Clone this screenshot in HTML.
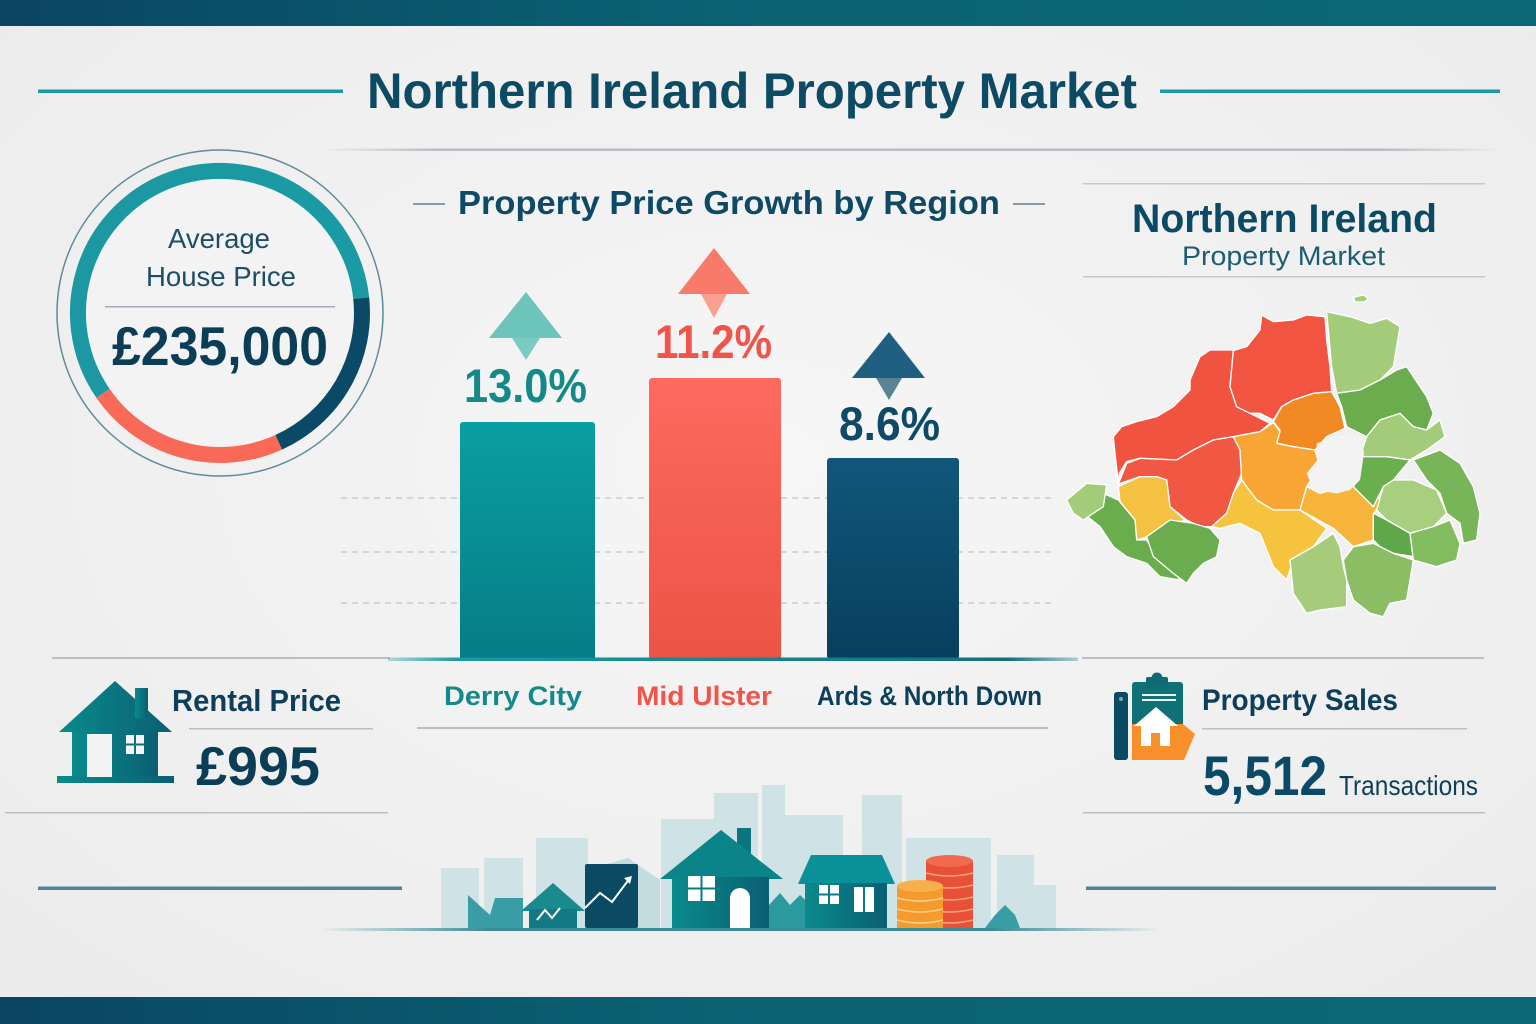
<!DOCTYPE html>
<html><head><meta charset="utf-8"><style>
html,body{margin:0;padding:0;background:#f0f0f0;}
svg{display:block;}
text{font-family:"Liberation Sans",sans-serif;}
</style></head><body>
<svg width="1536" height="1024" viewBox="0 0 1536 1024" xmlns="http://www.w3.org/2000/svg">
<defs>
<radialGradient id="bg" cx="0.5" cy="0.45" r="0.75">
<stop offset="0" stop-color="#f6f6f6"/><stop offset="1" stop-color="#ebebeb"/>
</radialGradient>
<linearGradient id="band" x1="0" x2="1" y1="0" y2="0">
<stop offset="0" stop-color="#0a4562"/><stop offset="0.5" stop-color="#0a6474"/><stop offset="1" stop-color="#0b6675"/>
</linearGradient>
<linearGradient id="grayline" x1="0" x2="1">
<stop offset="0" stop-color="#b8bcc6" stop-opacity="0"/><stop offset="0.1" stop-color="#b8bcc6"/><stop offset="0.9" stop-color="#b8bcc6"/><stop offset="1" stop-color="#b8bcc6" stop-opacity="0"/>
</linearGradient>
<linearGradient id="tealbase" x1="0" x2="1">
<stop offset="0" stop-color="#1a9aa0" stop-opacity="0.3"/><stop offset="0.1" stop-color="#1a9aa0"/><stop offset="0.9" stop-color="#136f80"/><stop offset="1" stop-color="#136f80" stop-opacity="0.3"/>
</linearGradient>
<linearGradient id="ground" x1="0" x2="1">
<stop offset="0" stop-color="#3a8c98" stop-opacity="0"/><stop offset="0.2" stop-color="#3a8c98"/><stop offset="0.8" stop-color="#3a8c98"/><stop offset="1" stop-color="#3a8c98" stop-opacity="0"/>
</linearGradient>
<linearGradient id="barT" x1="0" y1="0" x2="0" y2="1">
<stop offset="0" stop-color="#0a9fa2"/><stop offset="1" stop-color="#067c86"/>
</linearGradient>
<linearGradient id="barC" x1="0" y1="0" x2="0" y2="1">
<stop offset="0" stop-color="#fd6a5f"/><stop offset="1" stop-color="#ec5344"/>
</linearGradient>
<linearGradient id="barN" x1="0" y1="0" x2="0" y2="1">
<stop offset="0" stop-color="#11577a"/><stop offset="1" stop-color="#073f5e"/>
</linearGradient>
<linearGradient id="houseG" x1="0" x2="1">
<stop offset="0" stop-color="#0a8a8c"/><stop offset="1" stop-color="#0a5f72"/>
</linearGradient>
<linearGradient id="tealRing" x1="0" x2="1">
<stop offset="0" stop-color="#1c98a2"/><stop offset="1" stop-color="#1a9aa3"/>
</linearGradient>
</defs>

<rect width="1536" height="1024" fill="url(#bg)"/>
<rect x="0" y="0" width="1536" height="26" fill="url(#band)"/>
<rect x="0" y="997" width="1536" height="27" fill="url(#band)"/>

<!-- Title -->
<rect x="38" y="89.5" width="305" height="3.5" fill="#1b9ba1"/>
<rect x="1160" y="89.5" width="340" height="3.5" fill="#1b9ba1"/>
<text x="367" y="108" font-size="50" font-weight="bold" fill="#0d4a63" textLength="770" lengthAdjust="spacingAndGlyphs">Northern Ireland Property Market</text>
<rect x="320" y="148.5" width="1180" height="2.5" fill="url(#grayline)"/>

<!-- Average price circle -->
<circle cx="220" cy="313" r="163" fill="none" stroke="#5e8c9a" stroke-width="1.5"/>
<circle cx="220" cy="313" r="134" fill="#f3f3f3"/>
<path d="M103.0,393.4 A142,142 0 1 1 361.2,298.2" fill="none" stroke="url(#tealRing)" stroke-width="16"/>
<path d="M361.2,298.2 A142,142 0 0 1 278.7,442.3" fill="none" stroke="#0a4a66" stroke-width="16"/>
<path d="M278.7,442.3 A142,142 0 0 1 103.0,393.4" fill="none" stroke="#f86a57" stroke-width="16"/>
<text x="168" y="248" font-size="28" fill="#1d4e66" textLength="102" lengthAdjust="spacingAndGlyphs">Average</text>
<text x="146" y="286" font-size="28" fill="#1d4e66" textLength="150" lengthAdjust="spacingAndGlyphs">House Price</text>
<rect x="105" y="306" width="230" height="1.5" fill="#a4acb9"/>
<text x="112" y="365" font-size="55" font-weight="bold" fill="#0b3d56" textLength="216" lengthAdjust="spacingAndGlyphs">£235,000</text>

<!-- Chart title -->
<rect x="413" y="203" width="32" height="2" fill="#8a98a8"/>
<rect x="1013" y="203" width="32" height="2" fill="#8a98a8"/>
<text x="458" y="214" font-size="33" font-weight="bold" fill="#0e4a66" textLength="542" lengthAdjust="spacingAndGlyphs">Property Price Growth by Region</text>

<!-- gridlines -->
<g stroke="#c9cbd0" stroke-width="1.5" stroke-dasharray="6,5">
<line x1="341" y1="498" x2="1051" y2="498"/>
<line x1="341" y1="552" x2="1051" y2="552"/>
<line x1="341" y1="603" x2="1051" y2="603"/>
</g>

<!-- bars -->
<rect x="460" y="422" width="135" height="238" rx="3" fill="url(#barT)"/>
<rect x="649" y="378" width="132" height="282" rx="3" fill="url(#barC)"/>
<rect x="827" y="458" width="132" height="201" rx="3" fill="url(#barN)"/>
<rect x="52" y="657" width="338" height="2" fill="#b9bec7"/>
<rect x="388" y="657.5" width="690" height="3.5" fill="url(#tealbase)"/>
<rect x="1082" y="657" width="402" height="2" fill="#b9bec7"/>

<!-- arrows -->
<polygon points="526,292 489,338 562,338" fill="#6cc4bb"/>
<polygon points="512,338 540,338 526,360" fill="#7ccbc2"/>
<polygon points="714,248 678,294 750,294" fill="#f87a6b"/>
<polygon points="701,294 727,294 714,318" fill="#fba08f"/>
<polygon points="889,332 852,378 925,378" fill="#1f5f82"/>
<polygon points="876,378 902,378 889,400" fill="#5a8496"/>

<!-- values -->
<text x="464" y="402" font-size="47" font-weight="bold" fill="#138a87" textLength="123" lengthAdjust="spacingAndGlyphs">13.0%</text>
<text x="655" y="358" font-size="47" font-weight="bold" fill="#f0544a" textLength="117" lengthAdjust="spacingAndGlyphs">11.2%</text>
<text x="839" y="440" font-size="47" font-weight="bold" fill="#0d4a68" textLength="101" lengthAdjust="spacingAndGlyphs">8.6%</text>

<!-- category labels -->
<text x="444" y="705" font-size="27" font-weight="bold" fill="#13898a" textLength="138" lengthAdjust="spacingAndGlyphs">Derry City</text>
<text x="636" y="705" font-size="27" font-weight="bold" fill="#f0544a" textLength="136" lengthAdjust="spacingAndGlyphs">Mid Ulster</text>
<text x="817" y="705" font-size="27" font-weight="bold" fill="#0d3f5a" textLength="225" lengthAdjust="spacingAndGlyphs">Ards &amp; North Down</text>
<rect x="417" y="727" width="631" height="2" fill="#b9bec7"/>

<!-- Right title block -->
<rect x="1083" y="183" width="402" height="1.5" fill="#c4c8cf"/>
<text x="1132" y="232" font-size="40" font-weight="bold" fill="#0c4a63" textLength="305" lengthAdjust="spacingAndGlyphs">Northern Ireland</text>
<text x="1182" y="265" font-size="27" fill="#1d5d73" textLength="203" lengthAdjust="spacingAndGlyphs">Property Market</text>
<rect x="1083" y="276" width="402" height="1.5" fill="#c4c8cf"/>

<!-- Map -->
<g transform="translate(1060,280) scale(0.33333)" stroke="#ffffff" stroke-width="4" stroke-linejoin="round">
<polygon fill="#a3cc7a" points="880,52 910,45 925,55 915,65 885,66"/>
<polygon fill="#f05440" points="160,470 185,440 230,425 290,410 340,380 390,330 390,300 420,230 450,210 520,210 510,320 530,380 570,400 630,430 600,455 520,470 460,480 400,510 350,540 240,535 200,545 178,580 175,610 165,520"/>
<polygon fill="#f25442" points="520,212 560,200 600,150 605,105 640,125 700,120 740,105 795,110 800,180 810,260 815,335 760,340 700,360 665,380 640,420 600,400 570,400 530,380 510,320"/>
<polygon fill="#f05843" points="240,535 350,540 400,510 460,480 520,470 540,510 545,580 520,640 500,700 455,740 420,740 380,720 330,680 320,600 290,590 240,590 175,612 200,550"/>
<polygon fill="#f28a23" points="640,425 665,380 700,360 760,340 815,335 840,380 855,445 800,470 765,510 700,500 650,490 660,450"/>
<polygon fill="#f7a535" points="520,470 600,455 640,428 660,455 650,490 700,500 765,510 780,560 740,620 720,690 640,690 590,660 545,600 540,510"/>
<polygon fill="#f5c143" points="175,620 240,590 290,590 320,600 330,680 375,720 280,765 230,780 225,720 180,665"/>
<polygon fill="#f5c33e" points="455,740 500,700 520,640 545,600 590,660 640,690 720,690 800,745 760,800 700,840 680,900 640,860 600,760 540,730 480,745"/>
<polygon fill="#f6b53a" points="720,690 740,620 780,640 850,620 880,590 900,640 975,660 940,700 940,780 880,800 820,745"/>
<polygon fill="#a3cc7a" points="800,95 870,110 930,130 980,115 1020,140 1000,260 960,300 900,330 830,340 815,260"/>
<polygon fill="#6aac4e" points="830,340 900,330 960,300 1010,270 1040,260 1060,290 1100,350 1120,400 1100,450 1060,440 1020,400 960,420 920,470 860,440 845,380"/>
<polygon fill="#a3cc7a" points="920,470 960,420 1020,400 1060,440 1100,450 1140,420 1155,470 1100,510 1050,540 980,530 900,530"/>
<polygon fill="#6aaf4d" points="900,530 980,530 1050,540 1000,600 970,620 940,680 880,620 900,590"/>
<polygon fill="#78b558" points="1060,540 1140,510 1200,550 1240,620 1260,700 1250,780 1210,790 1200,730 1160,700 1140,640 1100,600"/>
<polygon fill="#a7cf7e" points="970,620 1000,600 1060,600 1130,630 1160,700 1120,740 1050,760 980,720 950,690"/>
<polygon fill="#5fa84a" points="940,700 980,720 1050,760 1060,830 1000,820 960,800 940,780"/>
<polygon fill="#82bc5e" points="1050,760 1120,740 1170,720 1200,790 1190,840 1130,860 1060,840"/>
<polygon fill="#a6cb7b" points="690,840 760,800 820,760 840,800 850,860 860,900 860,980 780,990 740,1000 700,940"/>
<polygon fill="#8bbd65" points="850,840 880,800 940,790 1000,820 1060,840 1050,900 1040,960 990,970 970,1010 930,1000 880,960 860,900"/>
<polygon fill="#6aad4d" points="70,700 130,640 175,660 225,720 230,780 260,780 290,830 340,870 360,900 300,890 260,850 200,830 160,800 120,740"/>
<polygon fill="#a3cc7a" points="20,660 80,610 140,615 130,680 70,720 40,700"/>
<polygon fill="#6aac4e" points="260,770 330,720 400,730 450,745 480,780 470,830 430,850 400,880 380,910 340,880 280,830"/>
<polygon fill="#f3f3f3" stroke="none" points="770,490 830,470 905,462 912,520 900,600 870,630 830,640 760,630 740,580 772,540"/>
</g>

<!-- Rental -->
<g fill="url(#houseG)">
<polygon points="115,681 59,732 172,732"/>
<rect x="135" y="688" width="13" height="30"/>
<rect x="72" y="730" width="86" height="48"/>
<rect x="57" y="776" width="117" height="7"/>
</g>
<rect x="87" y="734" width="25" height="43" fill="#f4f4f4"/>
<rect x="126" y="735" width="18" height="19" fill="#f4f4f4"/>
<rect x="134" y="735" width="2" height="19" fill="#0a7080"/>
<rect x="126" y="743.5" width="18" height="2" fill="#0a7080"/>
<text x="172" y="711" font-size="31" font-weight="bold" fill="#0d3f5a" textLength="169" lengthAdjust="spacingAndGlyphs">Rental Price</text>
<rect x="189" y="728" width="184" height="1.5" fill="#b9bec7"/>
<text x="196" y="785" font-size="55" font-weight="bold" fill="#0b3d56" textLength="124" lengthAdjust="spacingAndGlyphs">£995</text>
<rect x="5" y="812" width="383" height="1.5" fill="#b9bec7"/>
<rect x="38" y="886.5" width="364" height="3.5" fill="#4d8696"/>

<!-- Property sales -->
<rect x="1114" y="692" width="14" height="68" rx="3" fill="#0b4a63"/>
<circle cx="1121" cy="699" r="2" fill="#7fa6b3"/>
<rect x="1132" y="682" width="51" height="78" rx="3" fill="#0f7076"/>
<circle cx="1157" cy="678" r="5.5" fill="#0f6a74"/>
<rect x="1146" y="677" width="22" height="10" rx="2" fill="#0f6a74"/>
<rect x="1142" y="694" width="34" height="2" fill="#e8f0f0"/>
<rect x="1142" y="699" width="34" height="2" fill="#e8f0f0"/>
<polygon points="1132,724 1183,724 1195,734 1184,760 1132,760" fill="#f7902a"/>
<polygon points="1156,707 1134,726 1178,726" fill="#ffffff"/>
<rect x="1141" y="724" width="29" height="22" fill="#ffffff"/>
<rect x="1151" y="733" width="9" height="13" fill="#f7902a"/>
<text x="1202" y="710" font-size="30" font-weight="bold" fill="#0d3f5a" textLength="196" lengthAdjust="spacingAndGlyphs">Property Sales</text>
<rect x="1202" y="728" width="265" height="1.5" fill="#b9bec7"/>
<text x="1203" y="795" font-size="56" font-weight="bold" fill="#0b4a66" textLength="124" lengthAdjust="spacingAndGlyphs">5,512</text>
<text x="1339" y="795" font-size="28" fill="#0d3f5a" textLength="139" lengthAdjust="spacingAndGlyphs">Transactions</text>
<rect x="1083" y="812" width="402" height="1.5" fill="#b9bec7"/>
<rect x="1086" y="886.5" width="410" height="3.5" fill="#4d8696"/>

<!-- Skyline -->
<g fill="#cfe3e6">
<rect x="441" y="868" width="38" height="60"/>
<rect x="484" y="858" width="39" height="70"/>
<rect x="536" y="838" width="52" height="90"/>
<rect x="661" y="819" width="54" height="109"/>
<rect x="714" y="793" width="44" height="135"/>
<rect x="762" y="785" width="23" height="143"/>
<rect x="785" y="815" width="58" height="113"/>
<rect x="862" y="795" width="40" height="133"/>
<rect x="906" y="838" width="85" height="90"/>
<rect x="997" y="855" width="37" height="73"/>
<rect x="1034" y="885" width="22" height="43"/>
</g>
<polygon points="592,868 628,858 660,880 660,928 592,928" fill="#c3dcdf"/>
<polygon points="468,895 490,915 495,898 523,898 523,928 468,928" fill="#3a9ca5"/>
<polygon points="769,928 769,905 780,893 790,905 800,895 816,910 816,928" fill="#2a9a9e"/>
<polygon points="985,928 995,915 1005,905 1015,915 1020,928" fill="#3a9ca5"/>
<!-- small house -->
<polygon points="553,883 521,911 585,911" fill="#1a8a8e"/>
<rect x="529" y="909" width="48" height="19" fill="#137a84"/>
<polyline points="537,920 545,910 552,918 560,908" fill="none" stroke="#ffffff" stroke-width="2"/>
<!-- chart board -->
<rect x="585" y="864" width="53" height="64" rx="2" fill="#0b4a63"/>
<polyline points="585,908 600,893 612,902 630,878" fill="none" stroke="#ffffff" stroke-width="2"/>
<polygon points="632,876 624,878 630,884" fill="#ffffff"/>
<!-- big house -->
<rect x="737" y="828" width="14" height="30" fill="#0b7580"/>
<polygon points="721,830 660,879 783,879" fill="#0b8489"/>
<rect x="672" y="877" width="97" height="51" fill="url(#houseG)"/>
<rect x="688" y="876" width="27" height="25" fill="#ffffff"/>
<rect x="700.5" y="876" width="2" height="25" fill="#0b7a84"/>
<rect x="688" y="887.5" width="27" height="2" fill="#0b7a84"/>
<path d="M730,928 L730,898 A10,10 0 0 1 750,898 L750,928 Z" fill="#ffffff"/>
<!-- right house -->
<polygon points="811,855 882,855 895,884 798,884" fill="#0a9099"/>
<rect x="805" y="883" width="82" height="45" fill="url(#houseG)"/>
<rect x="819" y="885" width="20" height="19" fill="#ffffff"/>
<rect x="828" y="885" width="2" height="19" fill="#0a7a84"/>
<rect x="819" y="893.5" width="20" height="2" fill="#0a7a84"/>
<rect x="854" y="887" width="20" height="25" fill="#ffffff"/>
<rect x="863" y="887" width="2" height="25" fill="#0a7a84"/>
<!-- coins -->
<rect x="926" y="861" width="47" height="67" fill="#e9503a"/>
<ellipse cx="949.5" cy="861" rx="23.5" ry="6" fill="#f26a4e"/>
<g stroke="#f9a27a" stroke-width="1.5" fill="none">
<path d="M926,873 Q949.5,879 973,873"/><path d="M926,885 Q949.5,891 973,885"/><path d="M926,897 Q949.5,903 973,897"/><path d="M926,909 Q949.5,915 973,909"/><path d="M926,920 Q949.5,926 973,920"/>
</g>
<rect x="897" y="886" width="46" height="42" fill="#f59a2c"/>
<ellipse cx="920" cy="886" rx="23" ry="6" fill="#f8b04a"/>
<g stroke="#fcd08a" stroke-width="1.5" fill="none">
<path d="M897,898 Q920,904 943,898"/><path d="M897,909 Q920,915 943,909"/><path d="M897,920 Q920,926 943,920"/>
</g>
<rect x="320" y="928" width="840" height="3" fill="url(#ground)"/>
</svg>
</body></html>
